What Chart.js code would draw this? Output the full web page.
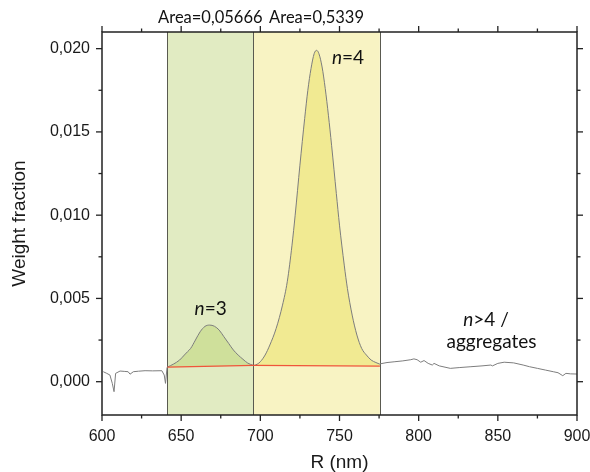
<!DOCTYPE html>
<html>
<head>
<meta charset="utf-8">
<script src="https://cdn.jsdelivr.net/npm/chart.js@4.4.0/dist/chart.umd.min.js"></script>
<style>
  html, body { margin: 0; padding: 0; background: #fff; }
</style>
</head>
<body>
<canvas id="myChart" width="590" height="472"></canvas>
<script>
// spectrum below the n=3 window
const lowR = [600.8, 603, 605, 606.5, 607.6, 608.6, 611.4, 614, 616.5, 617.7, 619.8, 623, 627.2, 632, 637.8, 639.3, 640.1, 641.1];
const lowW = [0.0006, 0.0005, 0.0004, -0.0001, -0.0006, 0.0005, 0.00064, 0.00062, 0.0006, 0.00045, 0.0006, 0.00063, 0.00066, 0.00065, 0.00066, 0.0004, -0.0001, 0.00086];

// n=3 peak
const n3R = [641.3, 645, 649, 652, 654, 656, 659, 662, 665, 668, 671, 674, 677, 680, 683, 686, 689, 692, 695.5];
const n3W = [0.00088, 0.00105, 0.0013, 0.0016, 0.0018, 0.002, 0.0025, 0.003, 0.00332, 0.0034, 0.00333, 0.0031, 0.0027, 0.0023, 0.0019, 0.0016, 0.00135, 0.00112, 0.00098];

// n=4 peak
const n4R = [695.5, 698, 700, 703, 706, 710, 714, 717, 720, 722, 725, 728, 730, 732, 734, 735.5, 737, 739, 741, 743, 745, 748, 750, 753, 755, 758, 761, 764, 767, 770, 773, 775.5];
const n4W = [0.00095, 0.00105, 0.0012, 0.0016, 0.0022, 0.0032, 0.0046, 0.006, 0.0082, 0.01, 0.013, 0.0158, 0.0175, 0.0188, 0.0197, 0.0199, 0.0197, 0.0189, 0.0176, 0.016, 0.0142, 0.0113, 0.0094, 0.007, 0.0056, 0.004, 0.0028, 0.002, 0.0016, 0.0013, 0.00115, 0.00105];

// n>4 / aggregates
const highR = [775.5, 780, 785, 790, 795, 797, 799, 801.3, 803.4, 806, 808.6, 809.7, 813, 820, 826, 833, 840, 845.6, 846.6, 850, 854, 860, 866, 870, 875, 880, 885, 888, 891, 893, 896, 900];
const highW = [0.00107, 0.00115, 0.0012, 0.00125, 0.00132, 0.00137, 0.00132, 0.00117, 0.00127, 0.0011, 0.001, 0.0011, 0.00095, 0.0008, 0.00085, 0.0009, 0.00095, 0.001, 0.00095, 0.0011, 0.00117, 0.00113, 0.001, 0.0009, 0.0008, 0.0007, 0.0006, 0.00054, 0.00036, 0.0005, 0.00047, 0.00046];

// red baselines under the peaks
const base3R = [641.3, 695.5];
const base3W = [0.00087, 0.00098];
const base4R = [695.5, 775.5];
const base4W = [0.00098, 0.00094];

// integration windows and their labels
const bandEdges = [641.3, 695.5, 775.5];
const areaLabels = ["Area=0,05666", "Area=0,5339"];

const xMajor = [600, 650, 700, 750, 800, 850, 900];
const xMinor = [625, 675, 725, 775, 825, 875];
const yMajor = [0, 0.005, 0.01, 0.015, 0.02];
const yMinor = [0.0025, 0.0075, 0.0125, 0.0175];

const notes = [
  { r: 668.6, w: 0.00436, it: "n", txt: "=3" },
  { r: 755.4, w: 0.01944, it: "n", txt: "=4" },
  { r: 842.5, w: 0.00372, it: "n", txt: ">4 /" },
  { r: 846, w: 0.00237, it: "", txt: "aggregates" },
];

const pts = (xs, ys) => xs.map((x, i) => ({ x: x, y: ys[i] }));

Chart.defaults.font.family = "'Liberation Sans', Arial, sans-serif";
Chart.defaults.color = "#1a1a1a";

const decor = {
  id: "decor",
  beforeDatasetsDraw(chart) {
    const { ctx, chartArea: a, scales: { x } } = chart;
    const fills = ["#e1ebc2", "#f8f3c3"];
    ctx.save();
    for (let i = 0; i < bandEdges.length - 1; i++) {
      const x0 = x.getPixelForValue(bandEdges[i]);
      const x1 = x.getPixelForValue(bandEdges[i + 1]);
      ctx.fillStyle = fills[i];
      ctx.fillRect(x0, a.top, x1 - x0, a.bottom - a.top);
    }
    ctx.strokeStyle = "#5a5a50";
    ctx.lineWidth = 1;
    bandEdges.forEach((e) => {
      const px = Math.round(x.getPixelForValue(e)) + 0.5;
      ctx.beginPath();
      ctx.moveTo(px, a.top);
      ctx.lineTo(px, a.bottom);
      ctx.stroke();
    });
    ctx.restore();
  },
  afterDatasetsDraw(chart) {
    const { ctx, chartArea: a, scales: { x, y } } = chart;
    ctx.save();
    // frame
    ctx.strokeStyle = "#222";
    ctx.lineWidth = 1.5;
    ctx.strokeRect(a.left, a.top, a.right - a.left, a.bottom - a.top);
    // ticks on all four sides
    ctx.lineWidth = 1.3;
    const tick = (x0, y0, x1, y1) => {
      ctx.beginPath();
      ctx.moveTo(x0, y0);
      ctx.lineTo(x1, y1);
      ctx.stroke();
    };
    xMajor.concat(xMinor).forEach((v, i) => {
      const len = i < xMajor.length ? 6 : 3.5;
      const px = x.getPixelForValue(v);
      tick(px, a.bottom, px, a.bottom + len);
      tick(px, a.top, px, a.top - len);
    });
    yMajor.concat(yMinor).forEach((v, i) => {
      const len = i < yMajor.length ? 6 : 3.5;
      const py = y.getPixelForValue(v);
      tick(a.left, py, a.left - len, py);
      tick(a.right, py, a.right + len, py);
    });
    // area labels above the windows
    ctx.fillStyle = "#111";
    ctx.textAlign = "center";
    ctx.textBaseline = "middle";
    ctx.font = "16.5px Lato";
    areaLabels.forEach((t, i) => {
      const cx = (x.getPixelForValue(bandEdges[i]) + x.getPixelForValue(bandEdges[i + 1])) / 2;
      ctx.fillText(t, cx, 18);
    });
    // peak annotations
    ctx.textAlign = "left";
    notes.forEach((n) => {
      ctx.font = "italic 19px Lato";
      const w1 = ctx.measureText(n.it).width;
      ctx.font = "19px Lato";
      const w2 = ctx.measureText(n.txt).width;
      const left = x.getPixelForValue(n.r) - (w1 + w2) / 2;
      const py = y.getPixelForValue(n.w);
      ctx.font = "italic 19px Lato";
      ctx.fillText(n.it, left, py);
      ctx.font = "19px Lato";
      ctx.fillText(n.txt, left + w1, py);
    });
    ctx.restore();
  },
};

const gray = "#7d7d7d";
const red = "#f0553a";

new Chart(document.getElementById("myChart"), {
  type: "line",
  data: {
    datasets: [
      { data: pts(base3R, base3W), borderColor: red, borderWidth: 1.3, pointRadius: 0, fill: false },
      { data: pts(base4R, base4W), borderColor: red, borderWidth: 1.3, pointRadius: 0, fill: false },
      { data: pts(n3R, n3W), borderColor: gray, borderWidth: 1, pointRadius: 0, cubicInterpolationMode: "monotone", fill: 0, backgroundColor: "#cfe09b" },
      { data: pts(n4R, n4W), borderColor: gray, borderWidth: 1, pointRadius: 0, cubicInterpolationMode: "monotone", fill: 1, backgroundColor: "#f1ea92" },
      { data: pts(lowR, lowW), borderColor: gray, borderWidth: 1, pointRadius: 0, fill: false },
      { data: pts(highR, highW), borderColor: gray, borderWidth: 1, pointRadius: 0, fill: false },
    ],
  },
  options: {
    responsive: false,
    animation: false,
    devicePixelRatio: 1,
    layout: { padding: { top: 32, right: 13, left: 0, bottom: 0 } },
    plugins: { legend: { display: false }, tooltip: { enabled: false } },
    scales: {
      x: {
        type: "linear",
        min: 600,
        max: 900,
        grid: { display: false, drawTicks: false },
        border: { display: false },
        ticks: { stepSize: 50, font: { size: 16 }, padding: 12, maxRotation: 0 },
        title: { display: true, text: "R (nm)", font: { size: 19, lineHeight: 1 }, padding: 0 },
        afterFit: (s) => {
          s.height = 57;
          s.paddingLeft = 0;
          s.paddingRight = 0;
        },
      },
      y: {
        min: -0.002,
        max: 0.021,
        grid: { display: false, drawTicks: false },
        border: { display: false },
        ticks: {
          stepSize: 0.005,
          includeBounds: false,
          font: { size: 16 },
          padding: 12,
          callback: (v) => v.toFixed(3).replace(".", ","),
        },
        title: { display: true, text: "Weight fraction", font: { size: 19, lineHeight: 1 }, padding: { top: 10, bottom: 0 } },
        afterFit: (s) => {
          s.width = 102;
          s.paddingTop = 0;
          s.paddingBottom = 0;
        },
      },
    },
  },
  plugins: [decor],
});
</script>
</body>
</html>
